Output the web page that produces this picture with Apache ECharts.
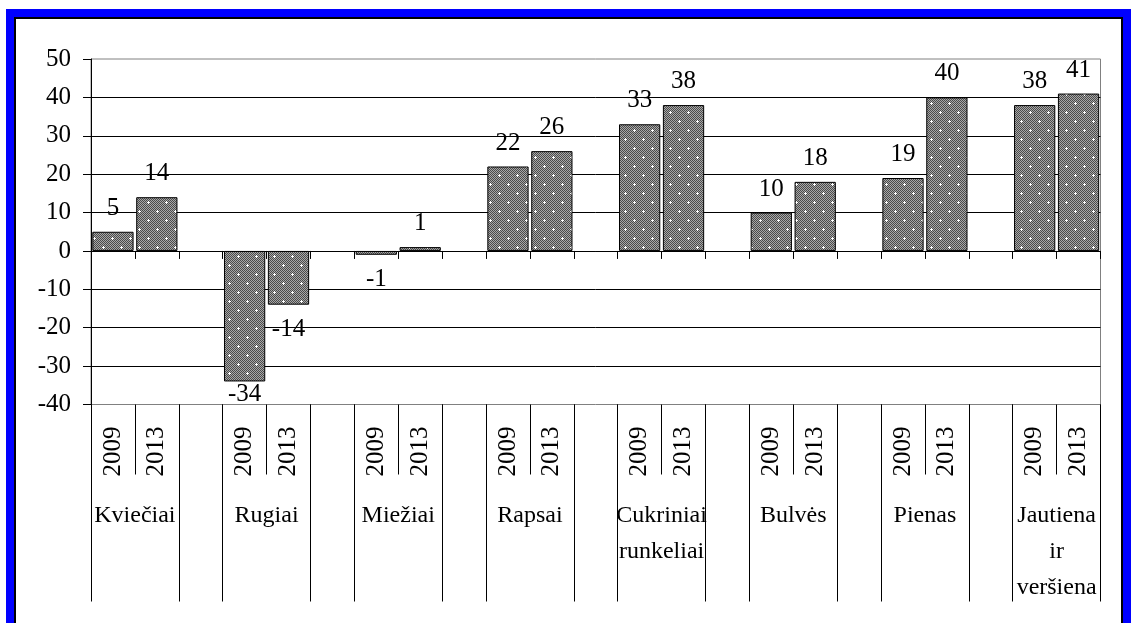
<!DOCTYPE html>
<html><head><meta charset="utf-8">
<script src="https://cdn.jsdelivr.net/npm/echarts@6/dist/echarts.min.js"></script>
<style>
html,body{margin:0;padding:0;background:#fff;width:1131px;height:623px;overflow:hidden}
#frame{position:absolute;left:6px;top:9px;width:1125px;height:650px;box-sizing:border-box;border:8px solid #0000ff;box-shadow:inset 0 0 0 2px #000;}
#chart{position:absolute;left:0;top:0;width:1131px;height:623px}
</style></head><body>
<div id="frame"></div><div id="chart"></div>
<script>
// ---- data ----
const groups = ['Kviečiai', 'Rugiai', 'Miežiai', 'Rapsai', 'Cukriniai\nrunkeliai', 'Bulvės', 'Pienas', 'Jautiena\nir\nveršiena'];
const years = ['2009', '2013'];
const values2009 = [5, -34, -1, 22, 33, 10, 19, 38];
const values2013 = [14, -14, 1, 26, 38, 18, 40, 41];
const yMin = -40, yMax = 50, yStep = 10;

// ---- build the flat category axis (2009, 2013, gap, ...) ----
const categories = [];
const seriesValues = [];
groups.forEach(function (g, i) {
  categories.push(years[0]); seriesValues.push(values2009[i]);
  categories.push(years[1]); seriesValues.push(values2013[i]);
  if (i < groups.length - 1) { categories.push(''); seriesValues.push(null); }
});

const FONT = "'Liberation Serif','Times New Roman',serif";

// dotted fill pattern
function makePattern() {
  const c = document.createElement('canvas');
  c.width = 18; c.height = 18;
  const ctx = c.getContext('2d');
  for (let y = 0; y < 18; y++) {
    for (let x = 0; x < 18; x++) {
      ctx.fillStyle = ((x + y) % 2 === 0) ? '#4a4a4a' : '#a8a8a8';
      ctx.fillRect(x, y, 1, 1);
    }
  }
  ctx.fillStyle = '#ffffff';
  [[4, 4], [13, 13]].forEach(function (p) {
    ctx.fillRect(p[0] - 1, p[1], 3, 1);
    ctx.fillRect(p[0], p[1] - 1, 1, 3);
  });
  return c;
}
const pattern = { image: makePattern(), repeat: 'repeat' };

const barData = seriesValues.map(function (v) {
  if (v === null) return null;
  const neg = v < 0;
  return {
    value: v,
    label: {
      position: neg ? 'bottom' : 'top',
      distance: neg ? (v < yMin + 8 ? 0 : 12) : 11
    }
  };
});

const chart = echarts.init(document.getElementById('chart'), null, { renderer: 'canvas' });
const option = {
  animation: false,
  backgroundColor: 'transparent',
  textStyle: { fontFamily: FONT, color: '#000' },
  grid: {
    left: 91, top: 59, width: 1009.5, height: 345.5,
    show: true, borderColor: '#808080', borderWidth: 1, backgroundColor: 'transparent'
  },
  xAxis: [
    { // zero line with short ticks
      type: 'category', data: categories, position: 'bottom',
      axisLine: { show: true, onZero: true, lineStyle: { color: '#000', width: 1 } },
      axisTick: { show: true, interval: 0, length: 8, lineStyle: { color: '#000' } },
      axisLabel: { show: false },
      splitLine: { show: false }
    },
    { // years row
      type: 'category', data: categories, position: 'bottom',
      axisLine: { show: false, onZero: false },
      axisTick: { show: true, interval: 0, length: 70, lineStyle: { color: '#000' } },
      axisLabel: { show: true, interval: 0, rotate: 90, margin: 22, fontSize: 25, color: '#000', fontFamily: FONT },
      splitLine: { show: false }
    },
    { // long separators
      type: 'category', data: categories, position: 'bottom',
      axisLine: { show: false, onZero: false },
      axisTick: { show: true, length: 197, lineStyle: { color: '#000' },
        interval: function (index) { return index % 3 !== 1; } },
      axisLabel: { show: false },
      splitLine: { show: false }
    },
    { // group names
      type: 'value', position: 'bottom', min: -0.5, max: 22.5, interval: 0.5,
      axisLine: { show: false, onZero: false },
      axisTick: { show: false },
      splitLine: { show: false },
      axisLabel: {
        show: true, margin: 93, fontSize: 24, lineHeight: 36, color: '#000', fontFamily: FONT, align: 'center',
        showMinLabel: true, showMaxLabel: true,
        formatter: function (v) {
          const p = Math.round(v * 2) / 2 - 0.5;
          if (p >= 0 && p % 3 === 0) { const gi = p / 3; return groups[gi] || ''; }
          return '';
        }
      }
    }
  ],
  yAxis: {
    type: 'value', min: yMin, max: yMax, interval: yStep,
    axisLine: { show: true, onZero: false, lineStyle: { color: '#000' } },
    axisTick: { show: true, length: 8, lineStyle: { color: '#000' } },
    axisLabel: { margin: 20, fontSize: 25, color: '#000', fontFamily: FONT },
    splitLine: { show: true, showMinLine: false, showMaxLine: false, lineStyle: { color: '#000', width: 1 } }
  },
  series: [{
    type: 'bar', xAxisIndex: 0, yAxisIndex: 0,
    data: barData,
    barCategoryGap: '6%',
    itemStyle: { color: pattern, borderColor: '#000', borderWidth: 1 },
    label: { show: true, fontSize: 25, color: '#000', fontFamily: FONT, formatter: '{c}' }
  }]
};
chart.setOption(option);
</script>
</body></html>
